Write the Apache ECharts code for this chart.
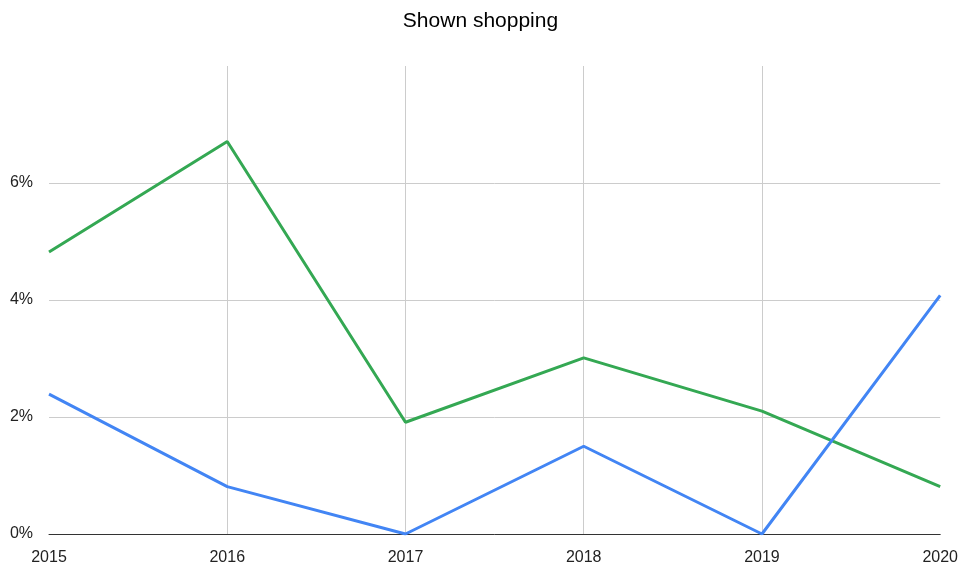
<!DOCTYPE html>
<html>
<head>
<meta charset="utf-8">
<script src="https://cdn.jsdelivr.net/npm/echarts@6/dist/echarts.min.js"></script>
<style>
html,body{margin:0;padding:0;background:#fff;}
#chart{width:961px;height:568px;}
</style>
</head>
<body>
<div id="chart"></div>
<script>
var titleText = 'Shown shopping';
var years = ['2015', '2016', '2017', '2018', '2019', '2020'];
var greenValues = [4.82, 6.71, 1.91, 3.01, 2.10, 0.81];
var blueValues = [2.39, 0.81, 0, 1.50, 0, 4.08];

var FONT = '"Liberation Sans", Arial, sans-serif';
var chart = echarts.init(document.getElementById('chart'), null, {renderer: 'canvas'});
chart.setOption({
  animation: false,
  backgroundColor: '#ffffff',
  title: {
    text: titleText,
    left: 'center',
    top: 6,
    textStyle: {fontFamily: FONT, fontSize: 21, fontWeight: 'normal', color: '#000'}
  },
  grid: {left: 49, right: 20, top: 66, bottom: 34, containLabel: false},
  xAxis: {
    type: 'category',
    data: years,
    boundaryGap: false,
    axisLine: {show: true, lineStyle: {color: '#333', width: 1}},
    axisTick: {show: false},
    axisLabel: {fontFamily: FONT, fontSize: 16, color: '#222', margin: 16},
    splitLine: {
      show: true,
      interval: function (index) { return index > 0 && index < years.length - 1; },
      lineStyle: {color: '#cccccc', width: 1}
    }
  },
  yAxis: {
    type: 'value',
    min: 0,
    max: 8,
    interval: 2,
    axisLine: {show: false},
    axisTick: {show: false},
    axisLabel: {
      fontFamily: FONT, fontSize: 16, color: '#222', margin: 16,
      padding: [5, 0, 0, 0],
      formatter: function (v) { return v === 8 ? '' : v + '%'; }
    },
    splitLine: {
      show: true,
      lineStyle: {color: ['#cccccc', '#cccccc', '#cccccc', '#cccccc', 'rgba(0,0,0,0)'], width: 1}
    }
  },
  series: [
    {
      name: 'Green',
      type: 'line',
      data: greenValues,
      symbol: 'none',
      lineStyle: {color: '#34a853', width: 3},
      itemStyle: {color: '#34a853'},
      z: 3
    },
    {
      name: 'Blue',
      type: 'line',
      data: blueValues,
      symbol: 'none',
      lineStyle: {color: '#4285f4', width: 3},
      itemStyle: {color: '#4285f4'},
      z: 4
    }
  ]
});
</script>
</body>
</html>
